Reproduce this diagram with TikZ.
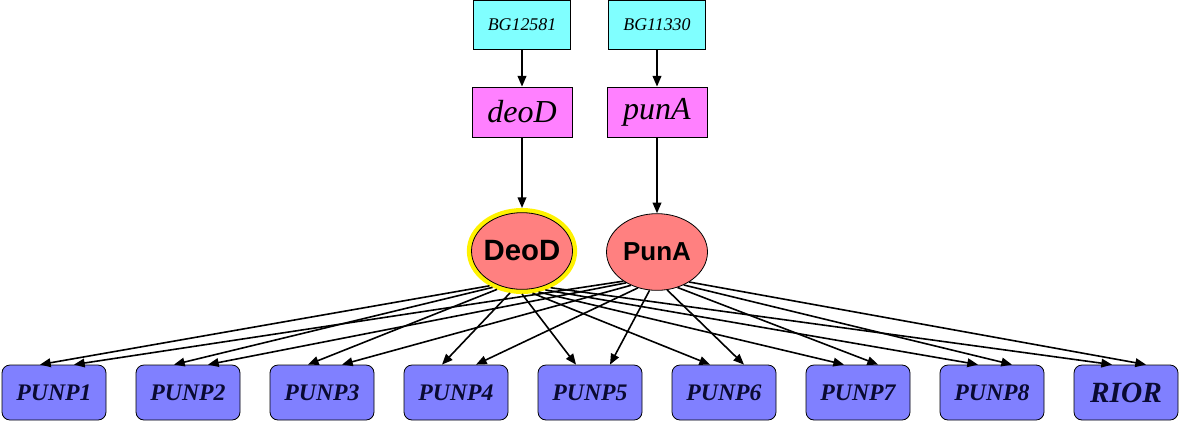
\documentclass[tikz,border=0pt]{standalone}
\usepackage{fontspec}
\setmainfont{Liberation Serif}
\newfontfamily\arialf{Liberation Sans}
\usetikzlibrary{shapes.geometric,arrows.meta}
\definecolor{cyanc}{RGB}{128,255,255}
\definecolor{magc}{RGB}{255,128,255}
\definecolor{salc}{RGB}{255,128,128}
\definecolor{perc}{RGB}{128,128,255}
\definecolor{navy}{RGB}{10,10,50}
\tikzset{
  bgbox/.style={draw, line width=0.6pt, fill=cyanc, minimum width=72.75pt, minimum height=36.75pt, inner sep=0pt,
    font=\fontsize{13.4}{14}\selectfont\itshape},
  genebox/.style={draw, line width=0.6pt, fill=magc, minimum width=75pt, minimum height=37.5pt, inner sep=0pt,
    font=\fontsize{24}{25}\selectfont\itshape},
  protein/.style={ellipse, draw, line width=0.6pt, fill=salc, minimum width=75.75pt, minimum height=57.5pt,
    inner xsep=-8pt, inner ysep=0pt, font=\arialf\bfseries},
  hilite/.style={preaction={draw=yellow, line width=7pt}, outer sep=3.5pt},
  target/.style={draw, line width=0.6pt, fill=perc, rounded corners=6pt, minimum width=78pt, minimum height=41.25pt, inner sep=0pt,
    text=navy, font=\fontsize{17.8}{18}\selectfont\bfseries\itshape},
  arr/.style={line width=1.2pt, -{Triangle[length=8pt,width=6.5pt]}},
}
\begin{document}
\begin{tikzpicture}[x=0.75pt,y=-0.75pt]
\useasboundingbox (0,0) rectangle (1180,422);
\node[bgbox] (bg1) at (522,25) {BG12581};
\node[bgbox] (bg2) at (657,25) {BG11330};
\node[genebox] (deoD) at (522,112) {deoD};
\node[genebox] (punA) at (657,112) {punA};
\node[protein, hilite, font=\arialf\bfseries\fontsize{22}{23}\selectfont] (DeoD) at (522,251) {DeoD};
\node[protein, font=\arialf\bfseries\fontsize{19.5}{20}\selectfont] (PunA) at (657,252) {PunA};
\foreach \n [count=\i from 0] in {PUNP1,PUNP2,PUNP3,PUNP4,PUNP5,PUNP6,PUNP7,PUNP8} {
  \node[target] (\n) at (54+134*\i,392.5) {\n};
}
\node[target, font=\fontsize{22}{23}\selectfont\bfseries\itshape] (RIOR) at (1126,392.5) {RIOR};
\draw[arr] (bg1) -- (deoD);
\draw[arr] (bg2) -- (punA);
\draw[arr] (deoD) -- (DeoD);
\draw[arr] (punA) -- (PunA);
% DeoD edges
\foreach \n/\a in {PUNP1/227.7,PUNP2/231.7,PUNP3/237.9,PUNP4/254.7,PUNP5/270,PUNP6/284.3,PUNP7/292.7,PUNP8/301.8,RIOR/308.8} {
  \draw[arr] (DeoD.\a) -- ([xshift=-10.5pt]\n.north);
}
% PunA edges
\foreach \n/\a in {PUNP1/221.5,PUNP2/225.8,PUNP3/232.7,PUNP4/242.8,PUNP5/259.6,PUNP6/285.1,PUNP7/300.3,PUNP8/309.6,RIOR/317.4} {
  \draw[arr] (PunA.\a) -- ([xshift=15pt]\n.north);
}
\end{tikzpicture}
\end{document}
